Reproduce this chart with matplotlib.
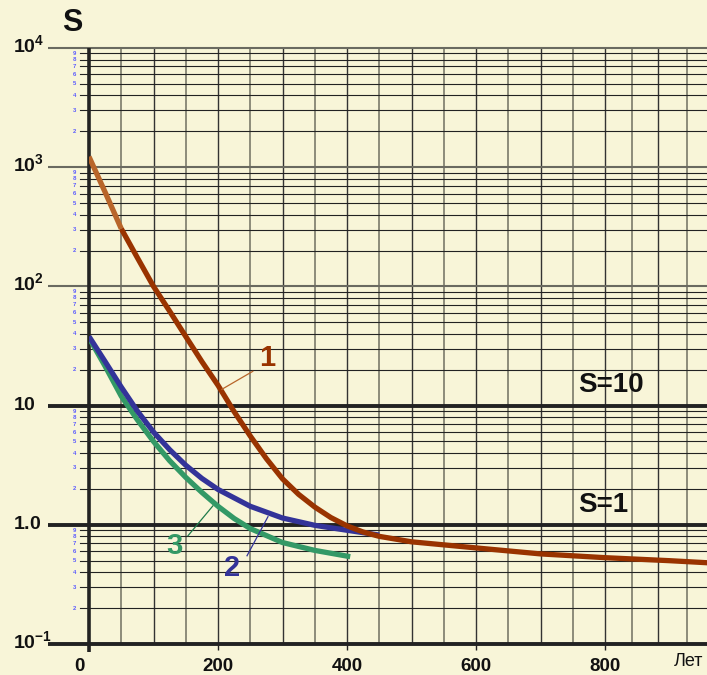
import numpy as np
import matplotlib
matplotlib.use('Agg')
import matplotlib.pyplot as plt
from matplotlib.transforms import ScaledTranslation

plt.rcParams['font.family'] = ['Liberation Sans', 'DejaVu Sans']
plt.rcParams['mathtext.fontset'] = 'custom'
plt.rcParams['mathtext.rm'] = 'Liberation Sans'
plt.rcParams['mathtext.bf'] = 'Liberation Sans:bold'
plt.rcParams['mathtext.it'] = 'Liberation Sans:italic'

# ---- data ----
years_1 = [0, 25, 50, 75, 100, 125, 150, 175, 200, 225, 250, 275, 300, 325, 350, 375, 400,
           425, 450, 500, 600, 700, 800, 900, 960]
s_1 = [1225, 617, 305, 174, 100, 62, 38, 23.4, 14.8, 8.9, 5.56, 3.59, 2.43, 1.80, 1.41, 1.15, 0.98,
       0.87, 0.80, 0.72, 0.64, 0.57, 0.53, 0.50, 0.48]

years_2 = [0, 25, 50, 75, 100, 125, 150, 175, 200, 250, 300, 350, 400, 450]
s_2 = [38, 23.4, 14.3, 9.0, 6.0, 4.27, 3.16, 2.45, 1.98, 1.43, 1.14, 0.99, 0.90, 0.82]

years_3 = [0, 25, 50, 75, 100, 125, 150, 175, 200, 225, 250, 300, 350, 405]
s_3 = [37, 21.4, 12.0, 7.6, 5.0, 3.45, 2.5, 1.87, 1.43, 1.13, 0.93, 0.71, 0.61, 0.54]

x_ticks = [0, 200, 400, 600, 800]
x_labels = ['0', '200', '400', '600', '800']
decades = [-1, 0, 1, 2, 3, 4]
decade_labels = [r'$\mathbf{10^{-1}}$', r'$\mathbf{1.0}$', r'$\mathbf{10}$',
                 r'$\mathbf{10^{2}}$', r'$\mathbf{10^{3}}$', r'$\mathbf{10^{4}}$']
minor_digits = [2, 3, 4, 5, 6, 7, 8, 9]
grid_x = [50, 100, 150, 200, 250, 300, 350, 400, 450, 500, 550, 600, 650, 700, 750, 800,
          842, 882, 927]

BG = '#f8f5d8'
C1_LIGHT = '#b8652a'
C1 = '#993300'
C2 = '#333399'
C3 = '#339966'
DARK = '#222222'

W, H = 707, 675
fig = plt.figure(figsize=(W / 100, H / 100), dpi=100, facecolor=BG)
L, R, T, B = 89, 707, 48, 644
ax = fig.add_axes([L / W, 1 - B / H, (R - L) / W, (B - T) / H])
ax.set_facecolor(BG)
ax.set_yscale('log')
ax.set_ylim(0.1, 1e4)
ax.set_xlim(0, (R - L) / 129 * 200)

for s in ax.spines.values():
    s.set_visible(False)

ytr = ax.get_yaxis_transform()

# vertical grid
for i, xv in enumerate(grid_x):
    if i % 2 == 1:
        ax.axvline(xv, color='#333333', lw=1.0, zorder=1)
    else:
        ax.axvline(xv, color='#7a7a6a', lw=1.2, zorder=1)

# horizontal minor grid + blue small labels
for d in decades[:-1]:
    for m in minor_digits:
        yv = m * 10.0 ** d
        ax.plot([-0.0146, 1], [yv, yv], transform=ytr, color=DARK, lw=0.8,
                clip_on=False, zorder=1)
        ax.text(-0.0235, yv, str(m), transform=ytr, color='#5a5aff', fontsize=4.3,
                fontweight='bold', ha='center', va='center', clip_on=False)

# horizontal major lines
for d, lab in zip(decades, decade_labels):
    yv = 10.0 ** d
    if d in (0, 1, -1):
        lw, col = 2.8, DARK
    else:
        lw, col = 1.5, '#6a6a60'
    ax.plot([-0.066, 1], [yv, yv], transform=ytr, color=col, lw=lw,
            clip_on=False, zorder=2, solid_capstyle='butt')
    t = ax.text(-0.123, yv, lab, transform=ytr, fontsize=14, ha='left', va='baseline',
                clip_on=False, color='#111111')
    t.set_transform(ytr + ScaledTranslation(0, -4 / 100, fig.dpi_scale_trans))

# left spine (thick)
ax.plot([0, 0], [1e4, 0.085], color=DARK, lw=2.6, clip_on=False, zorder=3,
        solid_capstyle='butt')

# curves
kw = dict(lw=3.8, solid_capstyle='butt', solid_joinstyle='round')
ax.plot(years_3, s_3, color=C3, zorder=4, **kw)
ax.plot(years_2, s_2, color=C2, zorder=5, **kw)
ax.plot(years_1[2:], s_1[2:], color=C1, zorder=6, **kw)
ax.plot(years_1[:3], s_1[:3], color=C1_LIGHT, zorder=6, **kw)

# curve labels and leaders
ax.plot([206, 254], [13.7, 19.4], color=C1_LIGHT, lw=0.9, zorder=7)
ax.text(276, 25, '1', color=C1, fontsize=21, fontweight='bold', ha='center', va='center')
ax.plot([277.5, 245], [1.17, 0.55], color=C2, lw=0.9, zorder=7)
ax.text(222, 0.436, '2', color=C2, fontsize=21, fontweight='bold', ha='center', va='center')
ax.plot([192, 153.5], [1.44, 0.81], color='#1f7a4a', lw=0.9, zorder=7)
ax.text(133, 0.667, '3', color=C3, fontsize=21, fontweight='bold', ha='center', va='center')

# S=10 / S=1
ax.text(758, 14.8, 'S=10', fontsize=20, fontweight='bold', ha='left', va='center', color='#111111')
ax.text(758, 1.47, 'S=1', fontsize=20, fontweight='bold', ha='left', va='center', color='#111111')

# x ticks
ax.set_xticks(x_ticks)
ax.set_xticklabels(x_labels, fontsize=13.5, fontweight='bold', color='#111111')
ax.tick_params(axis='x', length=4, width=1, color=DARK, pad=6)
lbl0 = ax.get_xticklabels()[0]
lbl0.set_transform(lbl0.get_transform() + ScaledTranslation(-10 / 100, 0, fig.dpi_scale_trans))
ax.set_yticks([])
ax.set_yticks([], minor=True)

fig.text(72 / W, 1 - 23 / H, 'S', fontsize=22, fontweight='bold', ha='center', va='center', color='#111111')
fig.text(688 / W, 1 - 662 / H, 'Лет', fontsize=13, ha='center', va='center', color='#111111')

fig.savefig('out.png', dpi=100, facecolor=BG)
